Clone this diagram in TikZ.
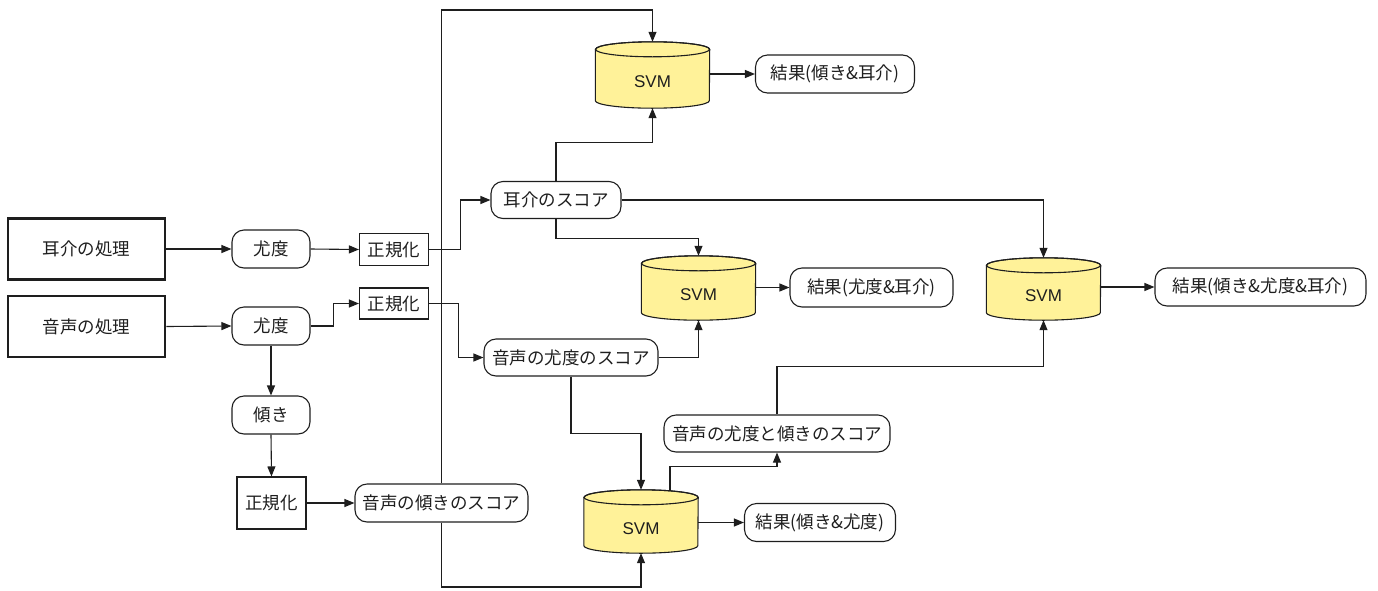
\documentclass[tikz,border=0pt]{standalone}
\usepackage{fontspec}
\setmainfont{Noto Sans CJK JP}
\newfontfamily\svmfont{Liberation Sans}
\usetikzlibrary{arrows.meta,calc}
\definecolor{svmy}{RGB}{255,242,153}
\definecolor{ink}{RGB}{30,30,30}
\newcommand\cyl[1]{%
 \path[fill=svmy,draw=ink,line width=1.1pt] ([yshift=-7.5pt]#1.north west) -- ([yshift=7.5pt]#1.south west) arc[start angle=180,end angle=360,x radius=57pt,y radius=7.5pt] -- ([yshift=-7.5pt]#1.north east) arc[start angle=0,end angle=180,x radius=57pt,y radius=7.5pt] -- cycle;
 \draw[ink,line width=1.1pt] ([yshift=-7.5pt]#1.north) ellipse[x radius=57pt,y radius=7.5pt];}
\begin{document}
\begin{tikzpicture}[x=1pt,y=-1pt, font=\fontsize{17.5}{21}\selectfont, text=ink,
 thickbox/.style={draw=ink, line width=2.6pt, minimum width=157pt, minimum height=61pt, inner sep=0},
 plainbox/.style={draw=ink, line width=1.1pt, minimum width=69pt, inner sep=0},
 pill/.style={draw=ink, line width=1.1pt, rounded corners=12pt, minimum height=38pt, inner sep=0},
 svmbody/.style={minimum width=114pt, inner sep=0},
 svmtxt/.style={font=\svmfont\fontsize{17}{20}\selectfont, inner sep=0},
 conn/.style={draw=ink, line width=1.1pt, -{Triangle[length=10pt,width=8pt]}}]
\useasboundingbox (0,0) rectangle (1378,590);
\node[thickbox] (ear) at (86.5,249) {耳介の処理};
\node[thickbox] (voice) at (86.5,326.5) {音声の処理};
\node[pill, minimum width=78pt] (like1) at (271,249) {尤度};
\node[plainbox, minimum height=32pt] (norm1) at (394,249.5) {正規化};
\node[pill, minimum width=78pt] (like2) at (271,326) {尤度};
\node[plainbox, minimum height=31pt] (norm2) at (394,303.5) {正規化};
\node[pill, minimum width=78pt] (tilt) at (271,415) {傾き};
\node[plainbox, minimum height=52pt] (norm3) at (271.5,503) {正規化};
\node[pill, minimum width=173pt] (tscore) at (441.5,503) {音声の傾きのスコア};
\node[pill, minimum width=130pt, minimum height=37pt] (escore) at (556,200) {耳介のスコア};
\node[pill, minimum width=174pt, minimum height=37pt] (lscore) at (571,357.5) {音声の尤度のスコア};
\node[pill, minimum width=226pt, minimum height=37pt] (ltscore) at (777,433.5) {音声の尤度と傾きのスコア};
\node[pill, minimum width=159pt] (res1) at (835,74) {結果(傾き\&耳介)};
\node[pill, minimum width=163pt, minimum height=39pt] (res2) at (871.5,287.5) {結果(尤度\&耳介)};
\node[pill, minimum width=211pt] (res3) at (1260.5,287) {結果(傾き\&尤度\&耳介)};
\node[pill, minimum width=151pt] (res4) at (820,522.5) {結果(傾き\&尤度)};
% SVM cylinders
\node[svmbody, minimum height=66pt] (s1) at (652.5,75) {}; \cyl{s1}
\node[svmtxt] (s1t) at ([yshift=-7pt]s1.center) {SVM};
\node[svmbody, minimum height=64pt] (s2) at (698.5,288) {}; \cyl{s2}
\node[svmtxt] (s2t) at ([yshift=-7pt]s2.center) {SVM};
\node[svmbody, minimum height=62pt] (s3) at (1043.5,289) {}; \cyl{s3}
\node[svmtxt] (s3t) at ([yshift=-7pt]s3.center) {SVM};
\node[svmbody, minimum height=63pt] (s4) at (641,521.5) {}; \cyl{s4}
\node[svmtxt] (s4t) at ([yshift=-7pt]s4.center) {SVM};
\coordinate (topc) at (441.5,10);
\coordinate (botc) at (441.5,587);
% connectors
\draw[conn] (ear.east) -- (like1.west);
\draw[conn] (like1.east) -- (norm1.west);
\draw[conn] (voice.east) -- (like2.west);
\draw[conn] (like2.east) -- ++(23,0) |- (norm2.west);
\draw[conn] (like2.south) -- (tilt.north);
\draw[conn] (tilt.south) -- (norm3.north);
\draw[conn] (norm3.east) -- (tscore.west);
\draw[conn] (norm1.east) -- ++(31,0) |- (escore.west);
\draw[conn] (norm2.east) -- ++(29,0) |- (lscore.west);
\draw[conn] (tscore.north) -- (topc) -| (s1.north);
\draw[conn] (tscore.south) -- (botc) -| (s4.south);
\draw[conn] (escore.north) -- ++(0,-38.5) -| (s1.south);
\draw[conn] (escore.south) -- ++(0,19) -| (s2.north);
\draw[conn] (escore.east) -| (s3.north);
\draw[conn] (lscore.east) -| (s2.south);
\draw[conn] (lscore.south) -- ++(0,57) -| (s4.north);
\draw[conn] ([xshift=29pt,yshift=-1pt]s4.north) -- ++(0,-24) -| (ltscore.south);
\draw[conn] (ltscore.north) -- ++(0,-48) -| (s3.south);
\draw[conn] (s1.east |- res1.west) -- (res1.west);
\draw[conn] (s2.east |- res2.west) -- (res2.west);
\draw[conn] (s3.east |- res3.west) -- (res3.west);
\draw[conn] (s4.east |- res4.west) -- (res4.west);
\end{tikzpicture}
\end{document}
